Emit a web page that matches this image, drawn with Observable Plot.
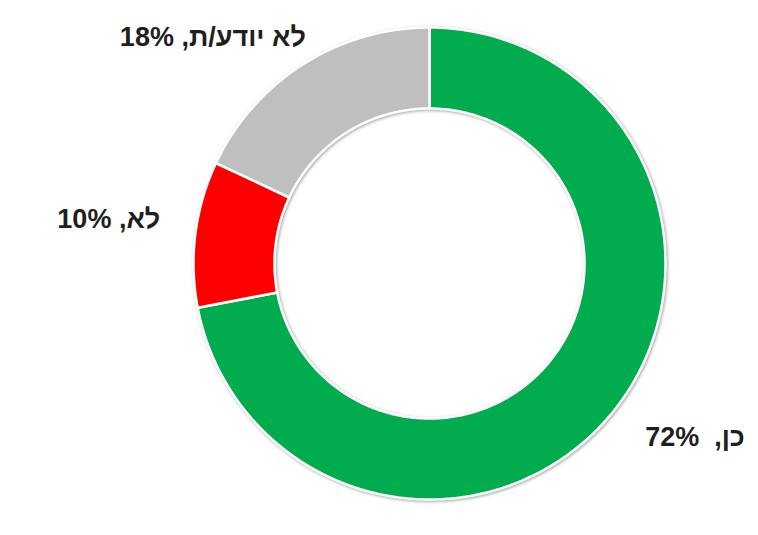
<!DOCTYPE html>
<html>
<head>
<meta charset="utf-8">
<script src="https://cdn.jsdelivr.net/npm/d3@7"></script>
<script src="https://cdn.jsdelivr.net/npm/@observablehq/plot@0.6"></script>
<style>
  html, body { margin: 0; padding: 0; background: #fff; }
  .lbl text { direction: rtl; unicode-bidi: embed; }
  g.ring { filter: drop-shadow(1.5px 1.5px 1.5px rgba(0,0,0,0.35)); }
</style>
</head>
<body>
<div id="chart"></div>
<script>
const categories = ["כן", "לא", "לא יודע/ת"];
const values = [72, 10, 18];
const labels = ["כן, 72%", "לא, 10%", "לא יודע/ת, 18%"];
const colors = ["#00AC4E", "#FF0000", "#BFBFBF"];

const W = 758, H = 535;
const cx = 429, cy = 263, R = 236, r0 = 155;
const inner = r0 / R;

const pie = d3.pie().sort(null).value(d => d.value)(
  categories.map((c, i) => ({category: c, value: values[i], label: labels[i]}))
);

// polygon points for each slice in unit (outer radius = 1) coordinates
const pts = [];
pie.forEach(s => {
  const n = Math.max(8, Math.ceil((s.endAngle - s.startAngle) / 0.01));
  const ring = [];
  for (let k = 0; k <= n; k++) {
    const a = s.startAngle + (s.endAngle - s.startAngle) * k / n;
    ring.push([Math.sin(a), Math.cos(a)]);
  }
  for (let k = n; k >= 0; k--) {
    const a = s.startAngle + (s.endAngle - s.startAngle) * k / n;
    ring.push([inner * Math.sin(a), inner * Math.cos(a)]);
  }
  ring.forEach(([x, y]) => pts.push({category: s.data.category, x, y}));
});

const lr = 1.12;
const lab = pie.map(s => {
  const a = (s.startAngle + s.endAngle) / 2;
  return {category: s.data.category, label: s.data.label,
    x: lr * Math.sin(a), y: lr * Math.cos(a)};
});

const xDom = [-cx / R, (W - cx) / R];
const yDom = [-(H - cy) / R, cy / R];

const textOpts = {
  x: "x", y: "y", text: "label",
  fontSize: 27, fontWeight: "bold", fill: "#1f1f1f",
  fontFamily: "Liberation Sans, Arial, sans-serif",
  className: "lbl"
};

const chart = Plot.plot({
  width: W, height: H,
  margin: 0,
  x: {domain: xDom, axis: null},
  y: {domain: yDom, axis: null},
  color: {domain: categories, range: colors},
  style: {background: "#fff", fontFamily: "Liberation Sans, Arial, sans-serif"},
  marks: [
    Plot.line(pts, {
      x: "x", y: "y", z: "category", fill: "category",
      stroke: "#fff", strokeWidth: 2.5, curve: "linear-closed",
      className: "ring"
    }),
    // right-hand label (left edge anchored; rtl so "end" = left)
    Plot.text(lab.filter(d => d.category === categories[0]), {...textOpts, text: d => d.label.replace(", ", ",  "), textAnchor: "end", lineAnchor: "top", dx: 12, dy: -5}),
    // left, middle label (right edge anchored)
    Plot.text(lab.filter(d => d.category === categories[1]), {...textOpts, textAnchor: "start", lineAnchor: "middle", dx: -7, dy: -11}),
    // upper-left label
    Plot.text(lab.filter(d => d.category === categories[2]), {...textOpts, textAnchor: "start", lineAnchor: "bottom", dx: 18, dy: 6})
  ]
});
document.getElementById("chart").appendChild(chart);
</script>
</body>
</html>
